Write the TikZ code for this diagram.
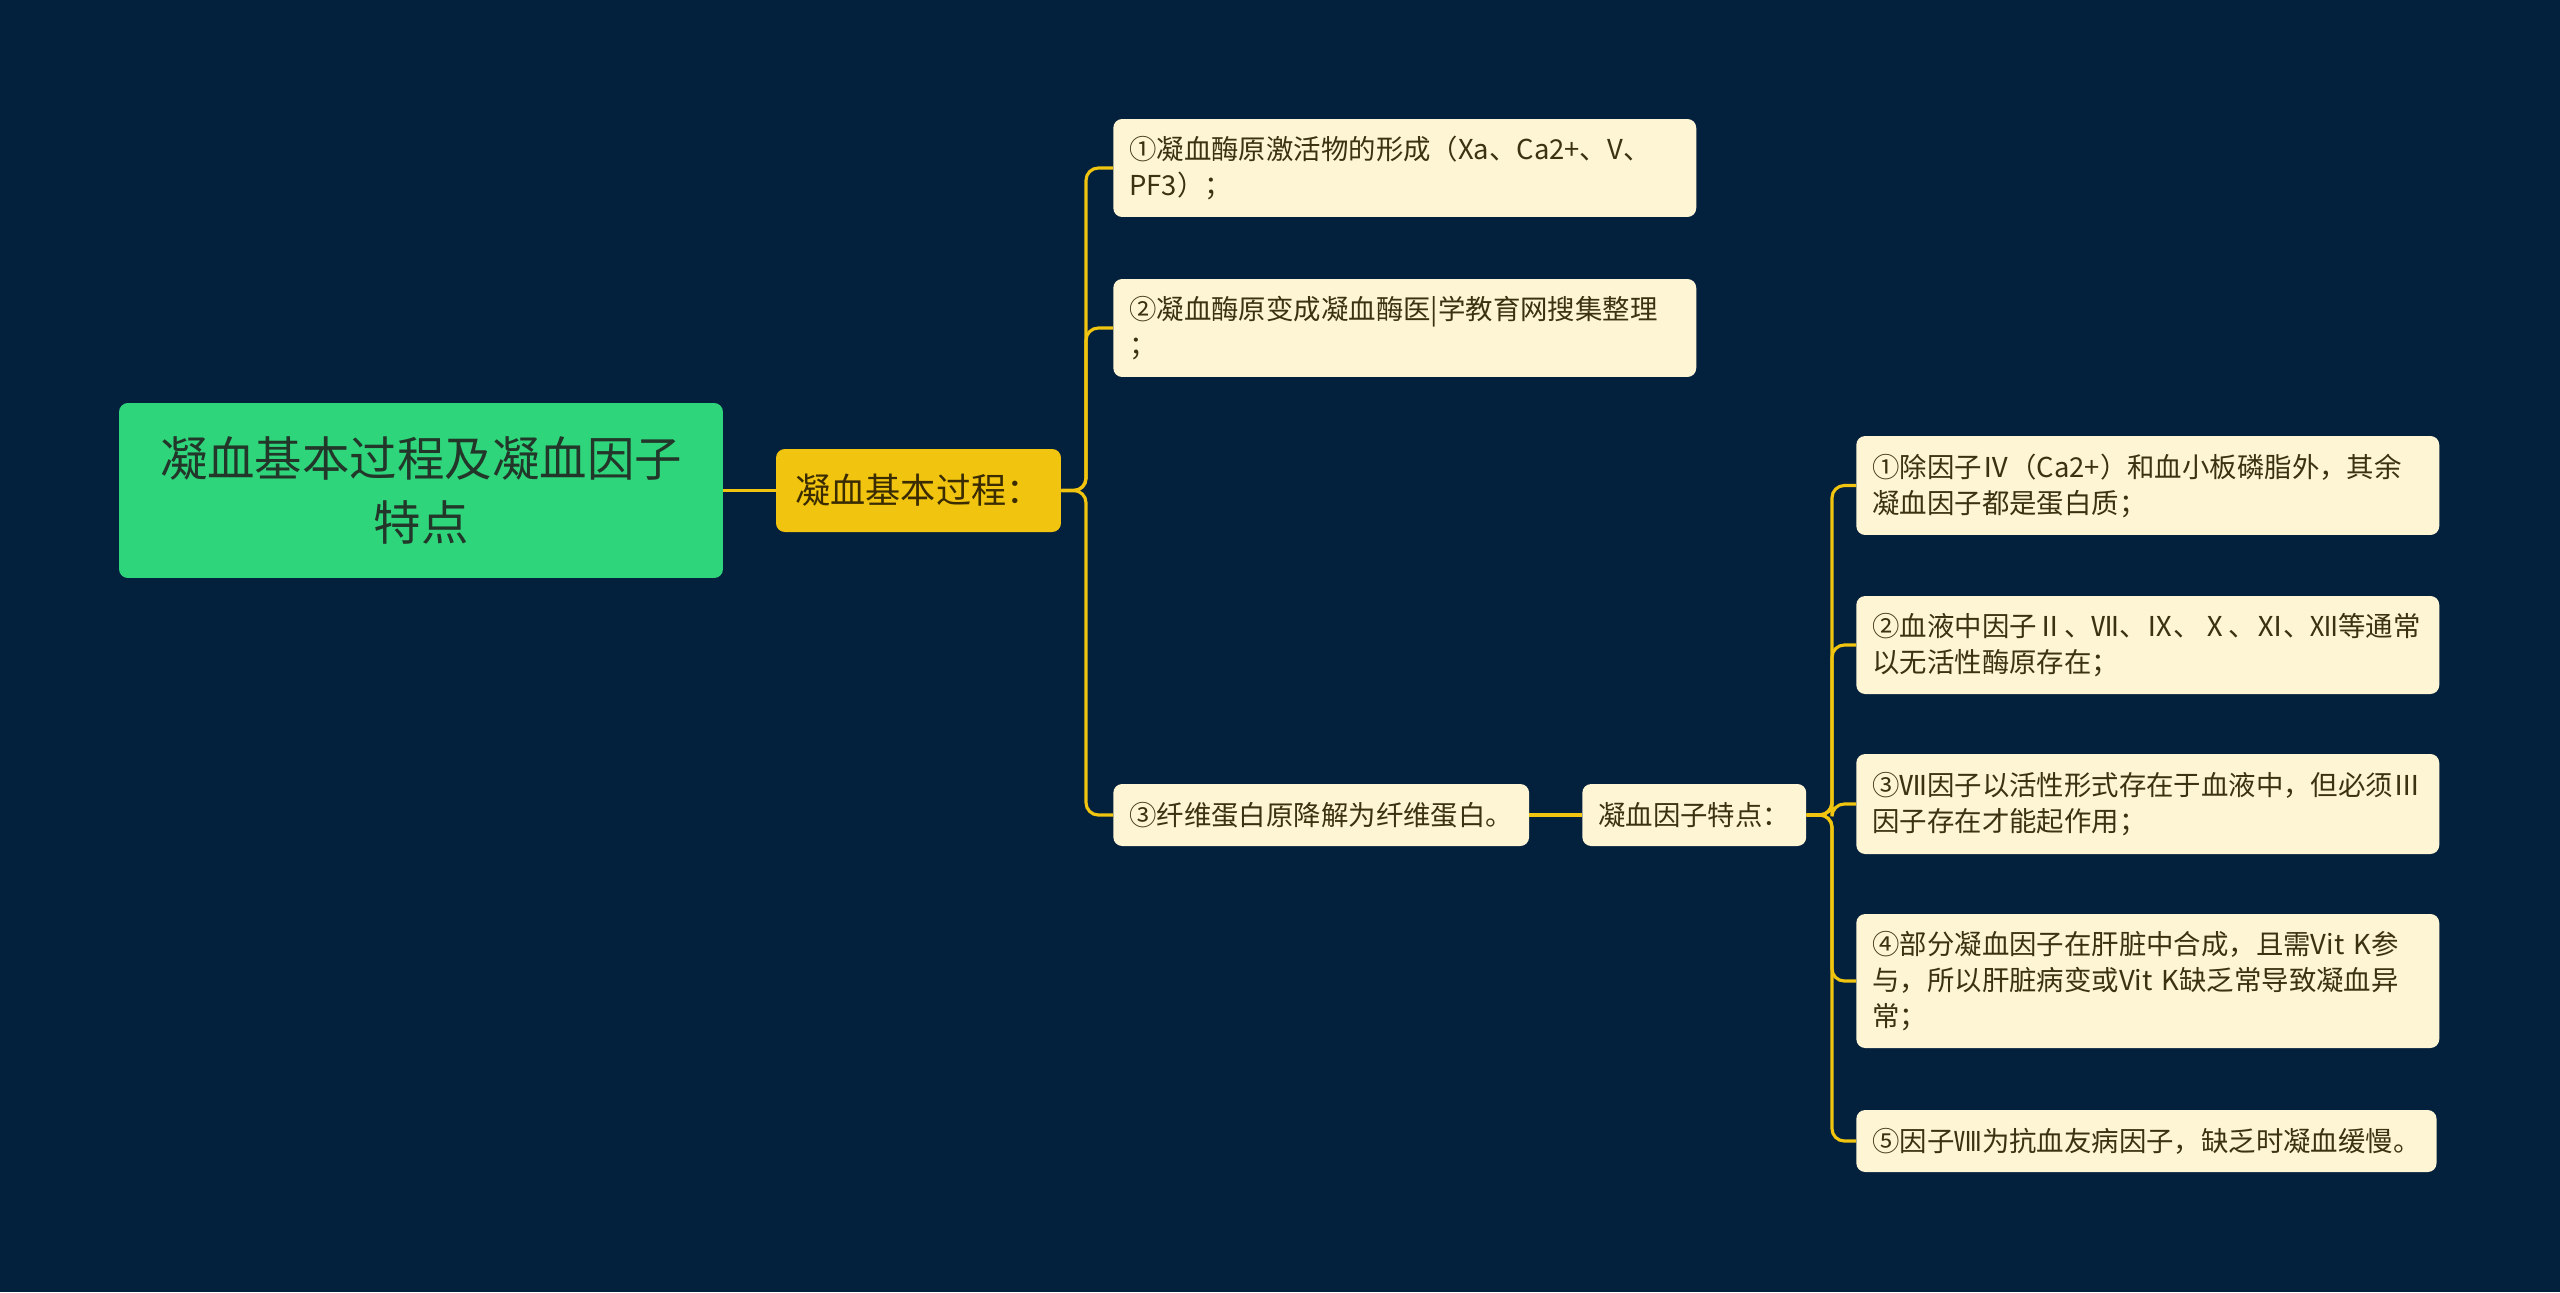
\documentclass[tikz,border=0pt]{standalone}
\usepackage{fontspec}
\setmainfont{Noto Sans CJK SC}
\definecolor{bgnavy}{HTML}{03203D}
\definecolor{rootgreen}{HTML}{2FD57A}
\definecolor{roottext}{HTML}{22372A}
\definecolor{midyellow}{HTML}{F1C40F}
\definecolor{midtext}{HTML}{3A2C00}
\definecolor{leafcream}{HTML}{FDF5D3}
\definecolor{leaftext}{HTML}{3A3210}
\definecolor{linkyellow}{HTML}{F1C40F}

\begin{document}
\begin{tikzpicture}[x=0.02cm, y=-0.02cm,
  root/.style={fill=rootgreen, text=roottext, rounded corners=5pt,
               align=center, minimum width=12.08cm, minimum height=3.5cm,
               font=\fontsize{27}{36}\selectfont},
  mid/.style={fill=midyellow, text=midtext, rounded corners=5pt,
              minimum width=5.7cm, minimum height=1.66cm,
              font=\fontsize{20}{24}\selectfont},
  leaf/.style={fill=leafcream, text=leaftext, rounded corners=5pt,
               align=left, anchor=west, inner xsep=0.32cm,
               minimum height=1.24cm, font=\fontsize{15.6}{20.5}\selectfont},
  wide/.style={leaf, text width=11.02cm, minimum height=#1},
  link/.style={draw=linkyellow, line width=1.8pt, rounded corners=7pt},
]
\useasboundingbox[fill=bgnavy] (0,0) rectangle (2560,1292);

\node[root] (root) at (421,490.5) {凝血基本过程及凝血因子\\特点};
\node[mid] (basic) at (918.5,490.5) {凝血基本过程：};

\node[wide=1.96cm] (c1) at (1113,168)
  {①凝血酶原激活物的形成（Xa、Ca2+、V、\\PF3）；};
\node[wide=1.96cm] (c2) at (1113,328)
  {②凝血酶原变成凝血酶医|学教育网搜集整理\\；};
\node[leaf] (c3) at (1113,815) {③纤维蛋白原降解为纤维蛋白。};
\node[leaf] (feat) at (1582,815) {凝血因子特点：};

\node[wide=1.98cm] (d1) at (1856,485.5)
  {①除因子Ⅳ（Ca2+）和血小板磷脂外，其余\\凝血因子都是蛋白质；};
\node[wide=1.96cm] (d2) at (1856,645)
  {②血液中因子Ⅱ、Ⅶ、Ⅸ、Ⅹ、Ⅺ、Ⅻ等通常\\以无活性酶原存在；};
\node[wide=2cm] (d3) at (1856,804)
  {③Ⅶ因子以活性形式存在于血液中，但必须Ⅲ\\因子存在才能起作用；};
\node[wide=2.68cm] (d4) at (1856,981)
  {④部分凝血因子在肝脏中合成，且需Vit K参\\与，所以肝脏病变或Vit K缺乏常导致凝血异\\常；};
\node[leaf] (d5) at (1856,1141) {⑤因子Ⅷ为抗血友病因子，缺乏时凝血缓慢。};

\coordinate (t1) at (1086,490.5);
\coordinate (t2) at (1832,815);

\draw[link] (root) -- (basic);
\foreach \c in {c1,c2,c3}
  \draw[link] (basic.east) -- (t1) |- (\c.west);
\draw[link] (c3) -- (feat);
\foreach \d in {d1,d2,d3,d4,d5}
  \draw[link] (feat.east) -- (t2) |- (\d.west);
\end{tikzpicture}
\end{document}
